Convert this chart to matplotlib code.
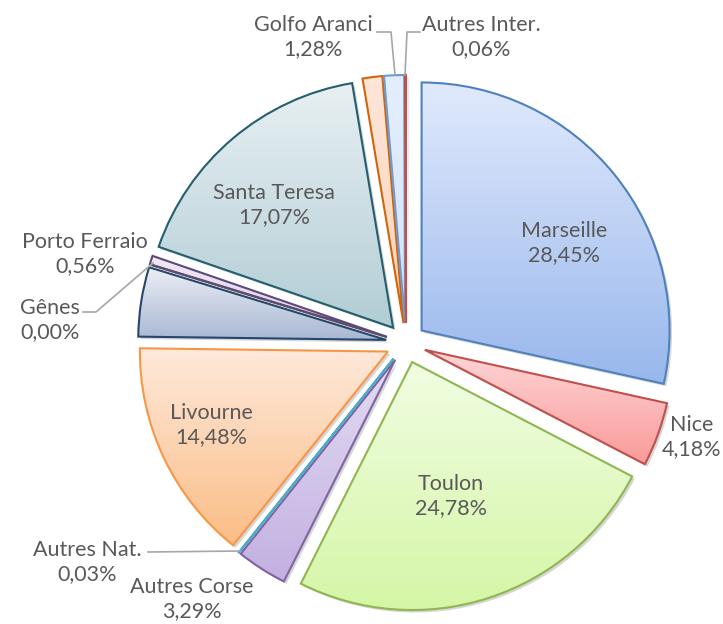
import numpy as np
import matplotlib
matplotlib.use("Agg")
import matplotlib.pyplot as plt
import matplotlib.transforms as mtransforms
from matplotlib.patches import Wedge
from matplotlib.colors import LinearSegmentedColormap

# =====================
# Data
# =====================

ports = ["Marseille", "Nice", "Toulon", "Autres Corse", "Autres Nat.",
         "Livourne", "", "Gênes", "Porto Ferraio", "Santa Teresa",
         "Golfo Aranci", "", "Autres Inter."]

shares = [28.45, 4.18, 24.78, 3.29, 0.03,
          14.48, 4.52, 0.00, 0.56, 17.07,
          1.28, 1.30, 0.06]

share_labels = ["28,45%", "4,18%", "24,78%", "3,29%", "0,03%",
                "14,48%", "", "0,00%", "0,56%", "17,07%",
                "1,28%", "", "0,06%"]

# =====================
# Styles (top colour, bottom colour, edge colour)
# =====================

styles = [
    ("#e1eafc", "#98b7ec", "#4f81bd"),
    ("#ffd6d6", "#f99a9a", "#c0504d"),
    ("#f1fde2", "#d5f6a6", "#8fb650"),
    ("#e4dcf2", "#c2b0e2", "#8064a2"),
    ("#6cc3d8", "#4bacc6", "#4bacc6"),
    ("#fee9dc", "#fbbd86", "#f79646"),
    ("#eceef5", "#a8b8d3", "#26466f"),
    ("#c5d89b", "#9bbb59", "#4f6228"),
    ("#f0e8f6", "#d9cce8", "#5f497a"),
    ("#e8f0f3", "#b2cdd5", "#235f6e"),
    ("#fee6d8", "#fcd2bc", "#d2640a"),
    ("#e4eefd", "#d4e3fa", "#6a9bd6"),
    ("#e58a8a", "#d06666", "#c0504d"),
]

# label positions in pixels (x, y from top), None = no label
label_pos = [(564, 243), (692, 437), (451, 496), (192, 599), (87, 562),
             (211, 425), None, (50, 320), (85, 254), (274, 205),
             (313, 37), None, (481, 37)]

W, H = 723, 624

fig = plt.figure(figsize=(W / 100, H / 100), dpi=100)
ax = fig.add_axes([0, 0, 1, 1])

wedges, _ = ax.pie(
    shares,
    center=(406, H - 343),
    radius=248,
    startangle=90,
    counterclock=False,
    explode=[20] * len(shares),
    wedgeprops=dict(linewidth=1.5),
    frame=True,
)

grad = np.linspace(0, 1, 256).reshape(-1, 1)
shift = mtransforms.offset_copy(ax.transData, fig=fig, x=2.5, y=-2.5, units="dots")

for w, (top, bottom, edge) in zip(wedges, styles):
    w.set_facecolor("none")
    w.set_edgecolor(edge)
    w.set_zorder(3)

    # soft shadow behind each slice
    sh = Wedge(w.center, w.r, w.theta1, w.theta2, facecolor="#000000",
               edgecolor="none", alpha=0.16, zorder=1, transform=shift)
    ax.add_patch(sh)

    bb = w.get_path().get_extents(w.get_patch_transform())
    cmap = LinearSegmentedColormap.from_list("g", [top, bottom])
    im = ax.imshow(grad, cmap=cmap, aspect="auto", origin="upper",
                   extent=[bb.x0, bb.x1, bb.y0, bb.y1], zorder=2)
    im.set_clip_path(w)

ax.set_xlim(0, W)
ax.set_ylim(0, H)
ax.set_aspect("equal")
ax.axis("off")

# =====================
# Labels
# =====================

for name, pct, pos in zip(ports, share_labels, label_pos):
    if pos is None:
        continue
    ax.text(pos[0], H - pos[1], name + "\n" + pct,
            ha="center", va="center", fontsize=15.5,
            family="Lato", color="#595959", linespacing=1.3, zorder=5)

# leader lines
leaders = [
    [(148, 552), (240, 551)],
    [(83, 312), (96, 312), (153, 263)],
    [(377, 32), (391, 32), (395, 75)],
    [(420, 32), (407, 32), (405, 75)],
]
for pts in leaders:
    xs = [p[0] for p in pts]
    ys = [H - p[1] for p in pts]
    ax.plot(xs, ys, color="#a6a6a6", linewidth=1.2, zorder=4)

fig.savefig("out.png", dpi=100)
